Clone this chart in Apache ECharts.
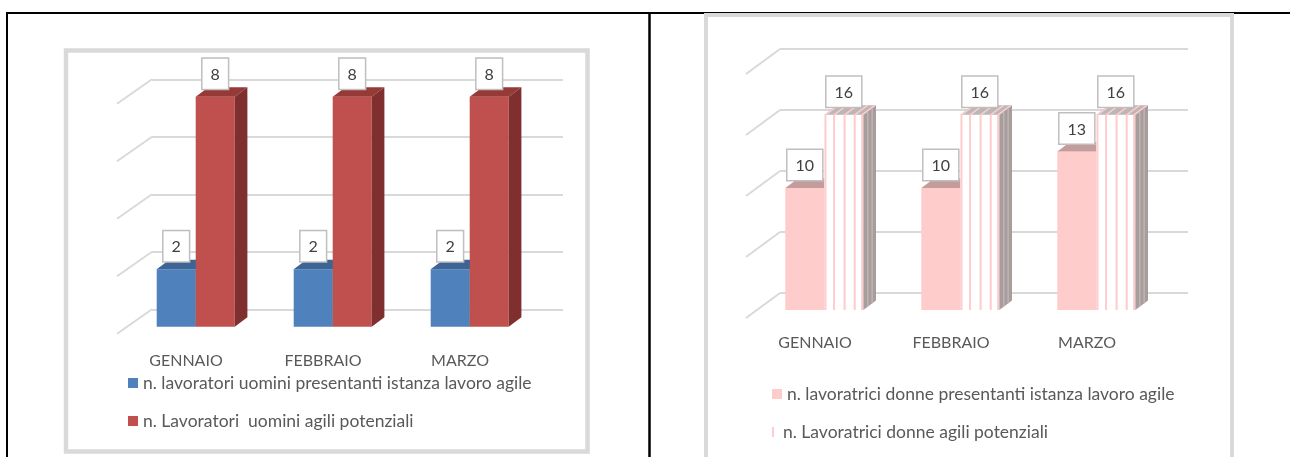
<!DOCTYPE html>
<html>
<head>
<meta charset="utf-8">
<script src="https://cdn.jsdelivr.net/npm/echarts@6/dist/echarts.min.js"></script>
<style>
  html, body { margin: 0; padding: 0; background: #fff; }
  #main { width: 1290px; height: 457px; }
</style>
</head>
<body>
<div id="main"></div>
<script>
// dati
var mesi = ['GENNAIO', 'FEBBRAIO', 'MARZO'];
var uominiIstanza = [2, 2, 2];
var uominiPotenziali = [8, 8, 8];
var donneIstanza = [10, 10, 13];
var donnePotenziali = [16, 16, 16];
var tickUomini = [0, 2, 4, 6, 8];
var tickDonne = [0, 5, 10, 15, 20];

var nomiUomini = ['n. lavoratori uomini presentanti istanza lavoro agile', 'n. Lavoratori  uomini agili potenziali'];
var nomiDonne = ['n. lavoratrici donne presentanti istanza lavoro agile', 'n. Lavoratrici donne agili potenziali'];

var FONT = 'Lato';
var GRID_COL = '#d9d9d9';
var TEXT_COL = '#595959';

// geometria finto 3D
var geoL = { shiftX: 24.8, shiftY: 17.5, barW: 39, dx: 12.7, dy: -9.5, fdx: -35, fdy: 24.5 };
var geoR = { shiftX: 23.7, shiftY: 17, barW: 39, dx: 12.7, dy: -9.5, fdx: -34, fdy: 25 };

var myChart = echarts.init(document.getElementById('main'));

function barRenderer(geo, side, col) {
    return function (params, api) {
        var cat = api.value(0), val = api.value(1);
        var top = api.coord([cat, val]);
        var base = api.coord([cat, 0]);
        var x0 = top[0] - geo.shiftX + (side === 0 ? -geo.barW : 0);
        var x1 = x0 + geo.barW;
        var yT = top[1] + geo.shiftY;
        var yB = base[1] + geo.shiftY;
        var dx = geo.dx, dy = geo.dy;
        var ch = [];
        ch.push({ type: 'rect', shape: { x: x0, y: yT, width: geo.barW, height: yB - yT },
            style: { fill: col.front } });
        ch.push({ type: 'polygon', shape: { points: [[x0, yT], [x1, yT], [x1 + dx, yT + dy], [x0 + dx, yT + dy]] },
            style: { fill: col.top } });
        ch.push({ type: 'polygon', shape: { points: [[x1, yT], [x1 + dx, yT + dy], [x1 + dx, yB + dy], [x1, yB]] },
            style: { fill: col.side } });
        if (col.stripes) {
            [0.03, 0.25, 0.52, 0.78, 0.97].forEach(function (f) {
                var x = x0 + f * geo.barW;
                ch.push({ type: 'line', shape: { x1: x, y1: yT, x2: x, y2: yB },
                    style: { stroke: col.stripes, lineWidth: 2 } });
                ch.push({ type: 'line', shape: { x1: x, y1: yT, x2: x + dx, y2: yT + dy },
                    style: { stroke: col.stripes, lineWidth: 1.5 } });
            });
            [0.35, 0.7].forEach(function (f) {
                var x = x1 + f * dx;
                ch.push({ type: 'line', shape: { x1: x, y1: yT + f * dy, x2: x, y2: yB + f * dy },
                    style: { stroke: '#c2b2b2', lineWidth: 1.5 } });
            });
        }
        ch.push({ type: 'text', z2: 100, style: {
            text: String(val), x: (x0 + x1) / 2, y: yT - 8,
            align: 'center', verticalAlign: 'bottom',
            font: '16px ' + FONT, fill: '#404040',
            backgroundColor: '#fff', borderColor: '#bfbfbf', borderWidth: 1.5,
            padding: [8, 8, 6, 8]
        } });
        return { type: 'group', children: ch };
    };
}

function floorRenderer(geo) {
    return function (params, api) {
        var p = api.coord([0, api.value(1)]);
        var xL = p[0] - api.size([1, 0])[0] / 2;
        return { type: 'line', shape: { x1: xL, y1: p[1], x2: xL + geo.fdx, y2: p[1] + geo.fdy },
            style: { stroke: GRID_COL, lineWidth: 2 } };
    };
}

function pairs(arr) {
    return arr.map(function (v, i) { return [i, v]; });
}

function xAx(gridIndex, shift, margin) {
    return {
        type: 'category', gridIndex: gridIndex, data: mesi,
        axisLine: { show: false }, axisTick: { show: false },
        axisLabel: { color: TEXT_COL, fontFamily: FONT, fontSize: 16, margin: margin,
            padding: [0, shift * 2, 0, 0] }
    };
}

function yAx(gridIndex, max, interval) {
    return {
        type: 'value', gridIndex: gridIndex, min: 0, max: max, interval: interval,
        axisLine: { show: false }, axisTick: { show: false }, axisLabel: { show: false },
        splitLine: { lineStyle: { color: GRID_COL, width: 2 } }
    };
}

function leg(name, left, top, color, icon) {
    return {
        left: left, top: top, itemWidth: 10, itemHeight: 10, padding: 0,
        selectedMode: false,
        textStyle: { color: TEXT_COL, fontFamily: FONT, fontSize: 17.5 },
        data: [{ name: name, icon: icon || 'rect', itemStyle: { color: color } }]
    };
}

var colBlue = { front: '#4f81bd', top: '#3c6595', side: '#2f5077' };
var colRed = { front: '#c0504d', top: '#963a38', side: '#7f302e' };
var colPink = { front: '#ffcccc', top: '#c59c9c', side: '#b08a8a' };
var colStripe = { front: '#ffffff', top: '#bdb6b6', side: '#a69d9d', stripes: '#ffcccc' };

option = {
    animation: false,
    graphic: [
        { type: 'line', shape: { x1: 6, y1: 13, x2: 1290, y2: 13 }, style: { stroke: '#000', lineWidth: 2 } },
        { type: 'line', shape: { x1: 7, y1: 12, x2: 7, y2: 457 }, style: { stroke: '#000', lineWidth: 2 } },
        { type: 'line', shape: { x1: 649.5, y1: 12, x2: 649.5, y2: 457 }, style: { stroke: '#000', lineWidth: 2.5 } },
        { type: 'rect', shape: { x: 66, y: 50.5, width: 521.5, height: 401 }, style: { fill: null, stroke: GRID_COL, lineWidth: 4.5 } },
        { type: 'rect', shape: { x: 706, y: 15, width: 526, height: 480 }, style: { fill: null, stroke: GRID_COL, lineWidth: 4 } }
    ],
    grid: [
        { left: 152, top: 79.3, width: 411, height: 230 },
        { left: 780, top: 49, width: 408, height: 244 }
    ],
    xAxis: [xAx(0, 34.5, 44), xAx(1, 33, 42)],
    yAxis: [yAx(0, 8, 2), yAx(1, 20, 5)],
    legend: [
        leg(nomiUomini[0], 128, 374, colBlue.front),
        leg(nomiUomini[1], 128, 412, colRed.front),
        leg(nomiDonne[0], 772, 385, colPink.front),
        leg(nomiDonne[1], 772, 423, '#ffcccc', 'path://M0,0h2v10h-2z')
    ],
    series: [
        { type: 'custom', name: 'floorL', xAxisIndex: 0, yAxisIndex: 0, silent: true,
          renderItem: floorRenderer(geoL), data: tickUomini.map(function (v) { return [0, v]; }) },
        { type: 'custom', name: 'floorR', xAxisIndex: 1, yAxisIndex: 1, silent: true,
          renderItem: floorRenderer(geoR), data: tickDonne.map(function (v) { return [0, v]; }) },
        { type: 'custom', name: nomiUomini[0], xAxisIndex: 0, yAxisIndex: 0, itemStyle: { color: colBlue.front },
          renderItem: barRenderer(geoL, 0, colBlue), data: pairs(uominiIstanza) },
        { type: 'custom', name: nomiUomini[1], xAxisIndex: 0, yAxisIndex: 0, itemStyle: { color: colRed.front },
          renderItem: barRenderer(geoL, 1, colRed), data: pairs(uominiPotenziali) },
        { type: 'custom', name: nomiDonne[0], xAxisIndex: 1, yAxisIndex: 1, itemStyle: { color: colPink.front },
          renderItem: barRenderer(geoR, 0, colPink), data: pairs(donneIstanza) },
        { type: 'custom', name: nomiDonne[1], xAxisIndex: 1, yAxisIndex: 1, itemStyle: { color: '#ffcccc' },
          renderItem: barRenderer(geoR, 1, colStripe), data: pairs(donnePotenziali) }
    ]
};
myChart.setOption(option);
</script>
</body>
</html>
